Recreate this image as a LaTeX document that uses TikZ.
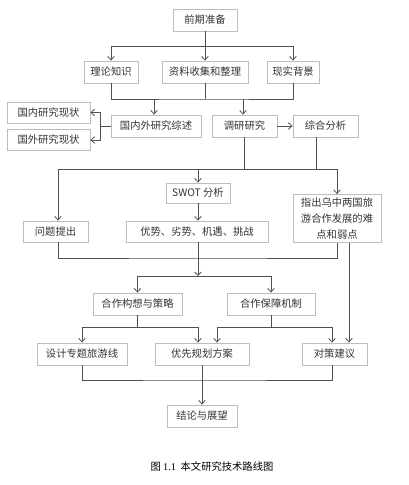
\documentclass[tikz,border=0pt]{standalone}
\usepackage{fontspec}
\newfontfamily\cjk{Noto Sans CJK SC}
\newfontfamily\capser{Liberation Serif}
\usetikzlibrary{arrows.meta}
\definecolor{boxline}{HTML}{BDBDBD}
\definecolor{conline}{HTML}{505050}
\definecolor{txt}{HTML}{333333}
\tikzset{
  box/.style={draw=boxline, line width=0.9pt, fill=white, text=txt,
    font=\cjk\fontsize{10.3}{16}\selectfont, minimum height=22pt, inner sep=1pt, align=center},
  con/.style={draw=conline, line width=0.8pt},
  arr/.style={con, -{Straight Barb[length=3.5pt,width=6.5pt]}}
}
\begin{document}
\begin{tikzpicture}[x=1pt,y=-1pt]
\useasboundingbox (0,0) rectangle (409,485);
% nodes
\node[box, minimum width=64pt] (pre) at (205,20) {前期准备};
\node[box, minimum width=54pt] (ll) at (111,72) {理论知识};
\node[box, minimum width=86pt] (zl) at (205,72) {资料收集和整理};
\node[box, minimum width=52pt] (xs) at (293,72) {现实背景};
\node[box, minimum width=90pt] (gnw) at (156,126) {国内外研究综述};
\node[box, minimum width=65pt] (dy) at (244.5,126) {调研研究};
\node[box, minimum width=65pt] (zh) at (325.5,126) {综合分析};
\node[box, minimum width=83pt, minimum height=21pt] (gn) at (48.5,112.5) {国内研究现状};
\node[box, minimum width=83pt, minimum height=21pt] (gw) at (48.5,140) {国外研究现状};
\node[box, minimum width=64pt, minimum height=20pt] (swot) at (198,193) {SWOT 分析};
\node[box, minimum width=65pt, minimum height=21pt] (wt) at (55.5,231.5) {问题提出};
\node[box, minimum width=142pt, minimum height=21pt] (ys) at (197,231.5) {优势、劣势、机遇、挑战};
\node[box, minimum width=88pt, minimum height=48pt] (zc) at (337,218.5) {指出乌中两国旅\\游合作发展的难\\点和弱点};
\node[box, minimum width=89pt] (hz) at (137.5,304) {合作构想与策略};
\node[box, minimum width=88pt] (bz) at (271,304) {合作保障机制};
\node[box, minimum width=90pt] (sj) at (82,354) {设计专题旅游线};
\node[box, minimum width=94pt] (yx) at (202,354) {优先规划方案};
\node[box, minimum width=65pt] (dc) at (334.5,354) {对策建议};
\node[box, minimum width=70pt] (jl) at (202,416) {结论与展望};
\node[text=black, inner sep=0pt, font=\cjk\fontsize{10.3}{12}\selectfont] (cap) at (212,467) {图 {\capser 1.1}\ \ 本文研究技术路线图};
% connectors
\coordinate (b1) at (205,46);
\draw[con] (pre.south) -- (b1);
\draw[arr] (b1) -| (ll.north);
\draw[arr] (b1) -| (xs.north);
\draw[arr] (b1) -- (zl.north);

\coordinate (b2) at (205,99);
\draw[con] (ll.south) |- (b2) -| (xs.south);
\draw[con] (zl.south) -- (b2);
\draw[arr] ([xshift=-2]gnw.north|-b2) -- ([xshift=-2]gnw.north);
\draw[arr] ([xshift=-1.5]dy.north|-b2) -- ([xshift=-1.5]dy.north);

\coordinate (b3) at (100,126);
\draw[con] (gnw.west) -- (b3);
\draw[arr] (b3) |- (gn.east);
\draw[arr] (b3) |- (gw.east);

\draw[arr] (dy.east) -- (zh.west);

\coordinate (b4) at (244,169);
\draw[con] ([xshift=-0.5]dy.south) -- ([xshift=-0.5]dy.south|-b4);
\draw[con] ([xshift=-9.5]zh.south) -- ([xshift=-9.5]zh.south|-b4);
\coordinate (b4l) at (58,169);
\coordinate (b4r) at (337,169);
\draw[con] (b4l) -- (b4r);
\draw[arr] (b4l) -- (b4l|-wt.north);
\draw[arr] (b4r) -- (zc.north);
\draw[arr] (swot.north|-b4) -- (swot.north);

\draw[arr] (swot.south) -- (swot.south|-ys.north);

\coordinate (b5) at (198,258);
\coordinate (b6) at (198,276);
\draw[con] (b4l|-wt.south) |- (b5) -| (zc.south);
\draw[con] (b5|-ys.south) -- (b5);
\draw[arr] (b5) -- (b6);
\draw[arr] (b6) -| (hz.north);
\draw[arr] (b6) -| (bz.north);

\coordinate (zr) at (349,242.5);
\draw[arr] (zr) -- (zr|-dc.north);

\coordinate (c1) at (137.5,327);
\draw[con] (hz.south) -- (c1);
\draw[arr] (c1) -| (sj.north);
\draw[arr] (c1) -| ([xshift=-4]yx.north);
\coordinate (c2) at (271,327);
\draw[con] (bz.south) -- (c2);
\draw[arr] (c2) -| ([xshift=15]yx.north);
\draw[arr] (c2) -| ([xshift=-2.5]dc.north);

\coordinate (c3) at (202,380);
\draw[con] (sj.south) |- (c3) -| ([xshift=-2.5]dc.south);
\draw[arr] (yx.south) -- (jl.north);
\end{tikzpicture}
\end{document}
